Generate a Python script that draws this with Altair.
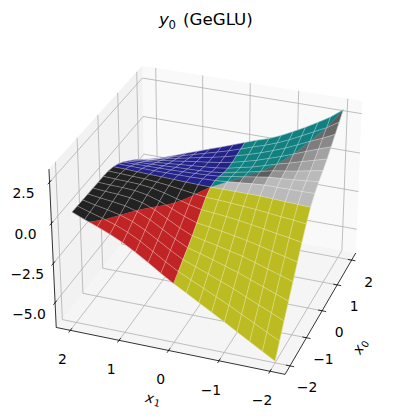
import numpy as np
import altair as alt

# ---------- values ----------
grid_axis = [-2.0, -1.75, -1.5, -1.25, -1.0, -0.75, -0.5, -0.25, 0.0, 0.25, 0.5, 0.75, 1.0, 1.25, 1.5, 1.75, 2.0]
# rows: x1 = -2 ... 2, columns: x0 = -2 ... 2
surface_rows = [
    [-6.50,-5.67,-4.83,-4.01,-3.20,-2.38,-1.56,-0.80,-0.15,0.33,0.69,1.00,1.35,1.75,2.17,2.58,3.00],
    [-6.04,-5.26,-4.47,-3.70,-2.94,-2.18,-1.41,-0.70,-0.11,0.31,0.60,0.85,1.14,1.48,1.80,2.10,2.42],
    [-5.58,-4.85,-4.13,-3.41,-2.70,-2.00,-1.29,-0.63,-0.08,0.31,0.53,0.70,0.93,1.20,1.47,1.72,1.96],
    [-5.12,-4.44,-3.77,-3.11,-2.45,-1.80,-1.15,-0.54,-0.04,0.30,0.47,0.57,0.70,0.90,1.12,1.33,1.52],
    [-4.65,-4.03,-3.42,-2.81,-2.20,-1.62,-1.02,-0.46,0.00,0.30,0.42,0.45,0.50,0.62,0.78,0.95,1.12],
    [-4.20,-3.65,-3.10,-2.56,-2.02,-1.47,-0.90,-0.40,0.00,0.24,0.30,0.27,0.27,0.36,0.49,0.62,0.74],
    [-3.75,-3.27,-2.78,-2.30,-1.83,-1.32,-0.80,-0.34,0.00,0.17,0.17,0.10,0.05,0.10,0.22,0.34,0.41],
    [-3.30,-2.89,-2.48,-2.07,-1.66,-1.20,-0.72,-0.29,0.00,0.10,0.05,-0.05,-0.12,-0.10,-0.02,0.10,0.17],
    [-2.85,-2.52,-2.18,-1.85,-1.50,-1.09,-0.65,-0.25,0.00,0.04,-0.07,-0.22,-0.30,-0.29,-0.23,-0.16,-0.10],
    [-2.36,-2.06,-1.75,-1.45,-1.15,-0.82,-0.47,-0.16,0.02,0.01,-0.12,-0.30,-0.41,-0.44,-0.43,-0.41,-0.39],
    [-1.84,-1.56,-1.26,-0.98,-0.73,-0.48,-0.24,-0.05,0.04,-0.01,-0.16,-0.35,-0.48,-0.55,-0.60,-0.63,-0.66],
    [-1.35,-1.07,-0.79,-0.53,-0.31,-0.15,-0.02,0.06,0.07,-0.02,-0.19,-0.38,-0.54,-0.65,-0.75,-0.84,-0.93],
    [-0.90,-0.66,-0.40,-0.17,0.00,0.10,0.15,0.15,0.10,-0.02,-0.21,-0.41,-0.60,-0.76,-0.91,-1.05,-1.20],
    [-0.53,-0.34,-0.13,0.05,0.17,0.23,0.24,0.21,0.12,-0.02,-0.22,-0.45,-0.67,-0.87,-1.07,-1.27,-1.47],
    [-0.21,-0.08,0.05,0.17,0.25,0.28,0.28,0.24,0.15,-0.01,-0.23,-0.48,-0.73,-0.97,-1.23,-1.49,-1.75],
    [0.09,0.15,0.21,0.26,0.29,0.30,0.30,0.27,0.18,0.00,-0.24,-0.51,-0.79,-1.08,-1.39,-1.71,-2.02],
    [0.40,0.39,0.38,0.37,0.35,0.34,0.34,0.30,0.20,0.01,-0.24,-0.54,-0.85,-1.18,-1.55,-1.93,-2.30],
]
surface_z = np.array(surface_rows)
grid_axis = np.array(grid_axis)

x_ticks = [-2, -1, 0, 1, 2]
z_ticks = [-5.0, -2.5, 0.0, 2.5]
sector_rays = [(0, -1), (1, -1), (1, 0), (0, 1), (-2, 1.66), (-1, 0), (0, -1)]
sector_colors = ["#bababa", "#128080", "#222288", "#222222", "#c02424", "#bcbc22"]
sector_order = [0, 1, 2, 3, 4, 5]

ELEV, AZIM, DIST = 30.0, 200.0, 10.0
SCALE, OX, OY = 2005.0, 210.5, 213.3
XL = 2.2
ZL = (-6.41, 3.09)
XP = XL + 2*XL/48
ZP = (ZL[0]-(ZL[1]-ZL[0])/48, ZL[1]+(ZL[1]-ZL[0])/48)
box = np.array([4, 4, 3.])*1.8294640721620434/np.linalg.norm([4, 4, 3])
el, az = np.radians(ELEV), np.radians(AZIM)
w = np.array([np.cos(el)*np.cos(az), np.cos(el)*np.sin(az), np.sin(el)])
eye = box/2 + DIST*w
u = np.cross([0, 0, 1], w); u /= np.linalg.norm(u)
v = np.cross(w, u)
def world(x0, x1, z):
    return np.array([(x0+XL)/(2*XL), (x1+XL)/(2*XL), (z-ZL[0])/(ZL[1]-ZL[0])])*box
def P(x0, x1, z):
    d = world(x0, x1, z)-eye
    zc = -np.dot(w, d)
    return [float(OX+SCALE*np.dot(u, d)/zc), float(OY-SCALE*np.dot(v, d)/zc)]
def depth(x0, x1, z):
    return float(np.dot(w, world(x0, x1, z)-eye))

def poly(pts, **props):
    pts = [list(p) for p in pts]
    return {"type": "Feature", "properties": props,
            "geometry": {"type": "Polygon", "coordinates": [pts+[pts[0]]]}}
def line(pts, **props):
    return {"type": "Feature", "properties": props,
            "geometry": {"type": "LineString", "coordinates": [list(p) for p in pts]}}

z0, z1 = ZP
panes = [
    poly([P(XP, -XP, z0), P(XP, XP, z0), P(XP, XP, z1), P(XP, -XP, z1)], c="#f9f9f9"),
    poly([P(-XP, XP, z0), P(XP, XP, z0), P(XP, XP, z1), P(-XP, XP, z1)], c="#f2f2f2"),
    poly([P(-XP, -XP, z0), P(XP, -XP, z0), P(XP, XP, z0), P(-XP, XP, z0)], c="#f5f5f5"),
]
grid = []
for t in x_ticks:
    grid.append(line([P(-XP, t, z0), P(XP, t, z0), P(XP, t, z1)]))
    grid.append(line([P(t, -XP, z0), P(t, XP, z0), P(t, XP, z1)]))
for t in z_ticks:
    grid.append(line([P(-XP, XP, t), P(XP, XP, t), P(XP, -XP, t)]))
axes = [line([P(-XP, XP, z0), P(-XP, -XP, z0), P(XP, -XP, z0)]),
        line([P(-XP, XP, z0), P(-XP, XP, z1)])]
TO, TI = 0.08, 0.08
for t in x_ticks:
    axes.append(line([P(-XP-TO, t, z0), P(-XP+TI, t, z0)]))
    axes.append(line([P(t, -XP-TO, z0), P(t, -XP+TI, z0)]))
for t in z_ticks:
    axes.append(line([P(-XP-TO, XP, t), P(-XP+TI, XP, t)]))

labels = []
for t in x_ticks:
    p = P(-XP, t, z0)
    labels.append({"lon": p[0]-8, "lat": p[1]+30, "s": str(t).replace("-", "\u2212")})
    p = P(t, -XP, z0)
    labels.append({"lon": p[0]+17, "lat": p[1]+22.5, "s": str(t).replace("-", "\u2212")})
for t in z_ticks:
    p = P(-XP, XP, t)
    labels.append({"lon": p[0]-26, "lat": p[1]+12, "s": str(t).replace("-", "\u2212")})

def clip(pts, r, sign):
    out = []
    n = len(pts)
    f = lambda q: sign*(r[0]*q[1]-r[1]*q[0])
    for i in range(n):
        a, b = pts[i], pts[(i+1) % n]
        fa, fb = f(a), f(b)
        if fa >= 0:
            out.append(a)
        if fa*fb < 0:
            s = fa/(fa-fb)
            out.append((a[0]+s*(b[0]-a[0]), a[1]+s*(b[1]-a[1])))
    return out
def shade(region, s):
    base = np.array([int(sector_colors[region][k:k+2], 16) for k in (1, 3, 5)], float)
    f = 1.0
    if region == 0:
        f = float(np.clip(1.0+1.1*(s-0.45), 0.5, 1.0))
    elif region == 5:
        f = float(np.clip(1.0+0.25*(s-0.55), 0.88, 1.0))
    c = (base*f).astype(int)
    return "#%02x%02x%02x" % tuple(c)

cells = []
n = len(grid_axis)
L = np.array([-0.667, -0.667, 0.333])
for j in range(n-1):
    for i in range(n-1):
        a0, a1 = grid_axis[i], grid_axis[i+1]
        b0, b1 = grid_axis[j], grid_axis[j+1]
        zz = surface_z[j:j+2, i:i+2]
        dzx = (zz[0, 1]+zz[1, 1]-zz[0, 0]-zz[1, 0])/2/(a1-a0)
        dzy = (zz[1, 0]+zz[1, 1]-zz[0, 0]-zz[0, 1])/2/(b1-b0)
        nrm = np.array([-dzx, -dzy, 1.0]); nrm /= np.linalg.norm(nrm)
        s = float(nrm @ L)
        def bil(q):
            tx, ty = (q[0]-a0)/(a1-a0), (q[1]-b0)/(b1-b0)
            return (zz[0, 0]*(1-tx)*(1-ty)+zz[0, 1]*tx*(1-ty)+zz[1, 0]*(1-tx)*ty+zz[1, 1]*tx*ty)
        square = [(a0, b0), (a1, b0), (a1, b1), (a0, b1)]
        d = depth((a0+a1)/2, (b0+b1)/2, zz.mean())
        for k in sector_order:
            pts = clip(clip(square, sector_rays[k], 1), sector_rays[k+1], -1)
            if len(pts) >= 3:
                col = shade(k, s)
                cells.append((d, poly([P(q[0], q[1], bil(q)) for q in pts], c=col)))
cells.sort(key=lambda e: e[0])
facets = [e[1] for e in cells]
wires = []
for j in range(n):
    wires.append(line([P(grid_axis[i], grid_axis[j], surface_z[j, i]) for i in range(n)]))
    wires.append(line([P(grid_axis[j], grid_axis[i], surface_z[i, j]) for i in range(n)]))

PR = dict(type="identity", scale=1, translate=[-8, -8])
def shapes(feats, **kw):
    return alt.Chart(alt.Data(values=feats)).mark_geoshape(**kw).project(**PR)
base_font = dict(font="DejaVu Sans", color="black")
def text(rows, **kw):
    return alt.Chart(alt.Data(values=rows)).mark_text(**{**base_font, **kw}).encode(
        longitude="lon:Q", latitude="lat:Q", text="s:N").project(**PR)
def rotated_label(cx, cy, main, sub, deg):
    th = np.radians(deg)
    off = lambda dx, dy: (cx+dx*np.cos(th)-dy*np.sin(th), cy+dx*np.sin(th)+dy*np.cos(th))
    a, b = off(-3.5, -0.5), off(4.5, 2.5)
    return [
        text([{"lon": float(a[0]), "lat": float(a[1]), "s": main}], fontSize=13.9, fontStyle="italic",
             angle=deg, align="center", baseline="middle"),
        text([{"lon": float(b[0]), "lat": float(b[1]), "s": sub}], fontSize=9.7,
             angle=deg, align="center", baseline="middle"),
    ]

chart = alt.layer(
    shapes(panes, strokeWidth=0).encode(fill=alt.Fill("properties.c:N", scale=None)),
    shapes(grid, filled=False, stroke="#b0b0b0", strokeWidth=0.8),
    shapes(axes, filled=False, stroke="black", strokeWidth=0.8),
    shapes(facets, strokeWidth=0.3).encode(fill=alt.Fill("properties.c:N", scale=None),
                                          stroke=alt.Stroke("properties.c:N", scale=None)),
    shapes(wires, filled=False, stroke="white", strokeWidth=0.6, strokeOpacity=0.55),
    text(labels, fontSize=13.9, align="center", baseline="middle"),
    *rotated_label(153, 400, "x", "1", 12),
    *rotated_label(361, 347, "x", "0", 300),
    text([{"lon": 159, "lat": 20, "s": "y"}], fontSize=16.7, fontStyle="italic", align="left", baseline="middle"),
    text([{"lon": 168.5, "lat": 24.5, "s": "0"}], fontSize=11.7, align="left", baseline="middle"),
    text([{"lon": 183, "lat": 20, "s": "(GeGLU)"}], fontSize=16.7, align="left", baseline="middle"),
).properties(width=384, height=403, padding=0,
             autosize=alt.AutoSizeParams(type="none")).configure_view(stroke=None)
chart.save("out.html", embed_options={"renderer": "svg", "actions": False})
